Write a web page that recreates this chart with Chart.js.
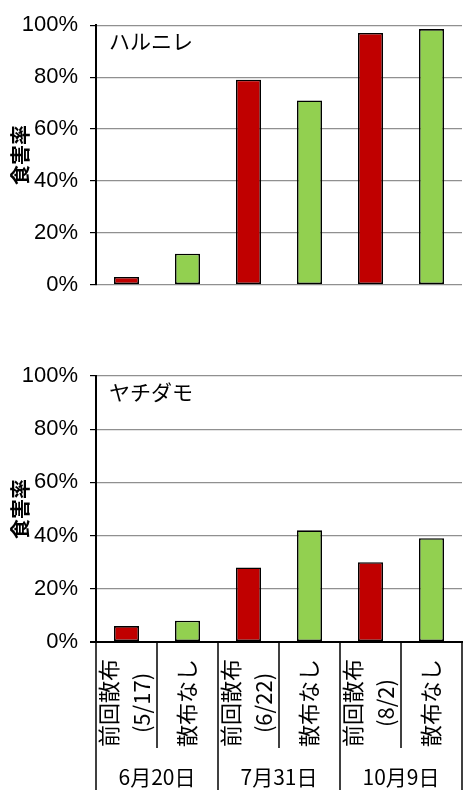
<!DOCTYPE html>
<html>
<head>
<meta charset="utf-8">
<script src="https://cdn.jsdelivr.net/npm/chart.js@4/dist/chart.umd.min.js"></script>
<style>
  html, body { margin: 0; padding: 0; background: #fff; }
  body { width: 465px; height: 790px; position: relative; overflow: hidden; }
  canvas { position: absolute; left: 0; }
  #chartHarunire { top: 0; }
  #chartYachidamo { top: 330px; }
</style>
</head>
<body>
<canvas id="chartHarunire" width="465" height="310"></canvas>
<canvas id="chartYachidamo" width="465" height="460"></canvas>
<script>
// Survey dates (one per pair of bars)
const surveyDates = ['6月20日', '7月31日', '10月9日'];
// Treatment of each bar
const treatmentLabels = [
  ['前回散布', '(5/17)'], ['散布なし'],
  ['前回散布', '(6/22)'], ['散布なし'],
  ['前回散布', '(8/2)'],  ['散布なし']
];
// Feeding damage rate (%)
const harunireRates  = [3, 12, 79, 71, 97, 98.5];
const yachidamoRates = [6, 8, 28, 42, 30, 39];
// Y axis ticks (%)
const rateTicks = [0, 20, 40, 60, 80, 100];

const RED = '#C00000';
const GREEN = '#92D050';
const JP_FONT = '"Noto Sans CJK JP", sans-serif';
const NUM_FONT = '"Liberation Sans Narrow", "Liberation Sans", sans-serif';

const barColors = treatmentLabels.map(l => l[0] === '散布なし' ? GREEN : RED);

// Species name written inside the plot area
const panelTitle = {
  id: 'panelTitle',
  afterDraw(chart, args, opts) {
    const { ctx, chartArea } = chart;
    ctx.save();
    ctx.font = '21px ' + JP_FONT;
    ctx.fillStyle = '#000';
    ctx.textBaseline = 'middle';
    ctx.textAlign = 'left';
    ctx.fillText(opts.text, chartArea.left + 13, chartArea.top + 16);
    ctx.restore();
  }
};

// Category table under the lower chart: treatment labels, dates and separators
const categoryTable = {
  id: 'categoryTable',
  afterDraw(chart) {
    const { ctx, chartArea, height } = chart;
    const x = chart.scales.x;
    const base = chartArea.bottom;
    ctx.save();
    ctx.strokeStyle = '#000';
    ctx.lineWidth = 1.5;
    for (let i = 0; i <= treatmentLabels.length; i++) {
      const px = Math.round(x.getPixelForValue(i - 0.5));
      const end = i % 2 === 0 ? height : base + 106;
      ctx.beginPath();
      ctx.moveTo(px, base);
      ctx.lineTo(px, end);
      ctx.stroke();
    }
    ctx.fillStyle = '#000';
    ctx.textAlign = 'center';
    ctx.textBaseline = 'middle';
    ctx.font = '22px ' + JP_FONT;
    treatmentLabels.forEach((lines, i) => {
      const cx = x.getPixelForValue(i) - 1;
      const cy = base + 61;
      ctx.save();
      ctx.translate(cx, cy);
      ctx.rotate(-Math.PI / 2);
      lines.forEach((t, k) => {
        ctx.fillText(t, 0, (k - (lines.length - 1) / 2) * 33);
      });
      ctx.restore();
    });
    ctx.font = '21px ' + JP_FONT;
    surveyDates.forEach((d, g) => {
      const cx = (x.getPixelForValue(2 * g - 0.5) + x.getPixelForValue(2 * g + 1.5)) / 2;
      ctx.fillText(d, cx, base + 135);
    });
    ctx.restore();
  }
};

function makeChart(id, title, values, padTop, xHeight, withTable) {
  return new Chart(document.getElementById(id), {
    type: 'bar',
    data: {
      labels: treatmentLabels.map(l => l.join(' ')),
      datasets: [{
        data: values,
        backgroundColor: barColors,
        borderColor: '#000',
        borderWidth: 1.6,
        borderSkipped: false,
        categoryPercentage: 1,
        barPercentage: 0.41
      }]
    },
    options: {
      responsive: false,
      animation: false,
      devicePixelRatio: 1,
      layout: { padding: { top: padTop, right: 3, left: 0, bottom: 0 } },
      plugins: {
        legend: { display: false },
        tooltip: { enabled: false },
        panelTitle: { text: title }
      },
      scales: {
        x: {
          ticks: { display: false },
          grid: { display: false },
          border: { display: withTable, color: '#000', width: 2 },
          afterFit: s => { s.height = xHeight; }
        },
        y: {
          min: 0,
          max: 100,
          afterBuildTicks: s => { s.ticks = rateTicks.map(v => ({ value: v })); },
          ticks: {
            callback: v => v + '%',
            color: '#000',
            padding: 12,
            font: { family: NUM_FONT, size: 22 }
          },
          grid: {
            color: ctx => (withTable && ctx.tick && ctx.tick.value === 0) ? '#000' : '#909090',
            lineWidth: ctx => (withTable && ctx.tick && ctx.tick.value === 0) ? 2 : 1.2,
            tickColor: '#000',
            tickLength: 6
          },
          border: { color: '#000', width: 2 },
          title: {
            display: true,
            text: '食害率',
            color: '#000',
            font: { family: JP_FONT, size: 20, weight: 'bold' },
            padding: { top: 8, bottom: 0 }
          },
          afterFit: s => { s.width = 96; }
        }
      }
    },
    plugins: withTable ? [panelTitle, categoryTable] : [panelTitle]
  });
}

makeChart('chartHarunire', 'ハルニレ', harunireRates, 22, 22, false);
makeChart('chartYachidamo', 'ヤチダモ', yachidamoRates, 46, 148, true);
</script>
</body>
</html>
